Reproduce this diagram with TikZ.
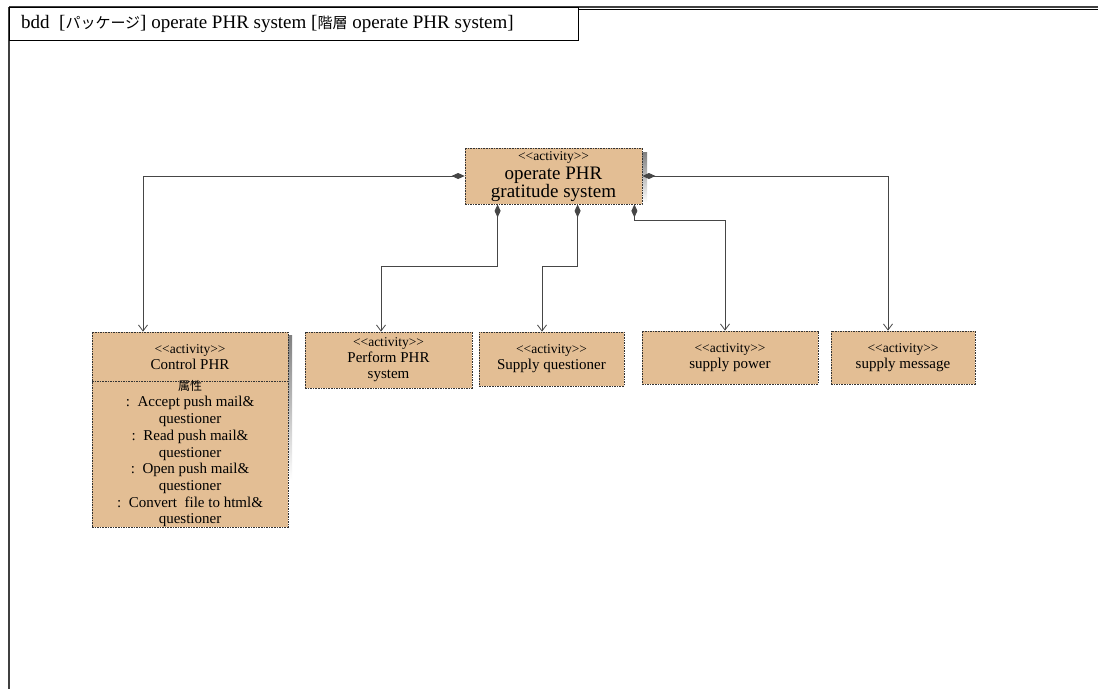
\documentclass[tikz,border=0pt]{standalone}
\usepackage{fontspec}
\setmainfont{Liberation Serif}[Ligatures=NoCommon]
\newfontfamily\jp{Noto Sans CJK JP}
\usetikzlibrary{arrows.meta,positioning}
\definecolor{actfill}{RGB}{227,190,148}
\definecolor{wire}{RGB}{70,70,70}
\definecolor{shade}{RGB}{185,185,185}
\newcommand{\stereoact}{{\fontsize{13.5}{16}\selectfont <{}<activity>{}>}}
\tikzset{
  actbox/.style={draw=black!80, fill=actfill, line width=0.8pt,
    dash pattern=on 1.6pt off 1pt, rectangle, inner sep=0pt, align=center,
    font=\fontsize{15}{16}\selectfont},
  comp/.style={draw=wire, line width=0.9pt,
    {Diamond[length=13pt,width=6pt,fill=wire]}-{Straight Barb[length=6pt,width=9pt,line width=0.8pt]}},
}
\begin{document}
\begin{tikzpicture}[x=1pt,y=-1pt]
\useasboundingbox (0,0) rectangle (1098,689);
\fill[white] (0,0) rectangle (1098,689);

% diagram frame
\draw[shade, line width=0.8pt] (11,9) -- (1098,9);
\draw[black!75, line width=1.6pt] (9,7) -- (1098,7);
\draw[black!75, line width=1.6pt] (9,7) -- (9,689);
\node[draw=black, line width=0.8pt, fill=white, minimum width=569pt, minimum height=33pt,
  inner sep=0pt, anchor=north west] (frame) at (9,7) {};
\node[anchor=west, inner sep=0pt, font=\fontsize{19}{21}\selectfont] (title) at (21,23.5)
  {bdd\ \ [{\jp\fontsize{15}{17}\selectfont パッケージ}] operate PHR system [{\jp\fontsize{15}{17}\selectfont 階層} operate PHR system]};

% drop shadows
\fill[shade] (642,152) rectangle (647,203);
\fill[shade] (288,335) rectangle (292,480);

% top-level activity
\node[actbox, minimum width=177pt, minimum height=56pt] (main) at (553.5,176) {};
\node[inner sep=0pt] (mainst) at (553.5,157) {\stereoact};
\node[font=\fontsize{19}{18}\selectfont, align=center, inner sep=0pt] (maintx) at (553.5,184)
  {operate PHR\\gratitude system};

% Control PHR with its attribute compartment
\node[actbox, minimum width=196pt, minimum height=195pt] (ctrl) at (190,429.5) {};
\coordinate (divl) at (92,381);
\coordinate (divr) at (288,381);
\draw[black!80, line width=0.8pt, dash pattern=on 1.6pt off 1pt] (divl) -- (divr);
\node[align=center, inner sep=0pt, font=\fontsize{15}{16}\selectfont] (ctrltx) at (190,357)
  {\stereoact\\Control PHR};
\node[align=center, inner sep=0pt, font=\fontsize{15}{16.7}\selectfont, anchor=north] (attrs) at (190,380)
  {{\jp\fontsize{12}{13}\selectfont 属性}\\
   :\ \ Accept push mail\&\\questioner\\
   :\ \ Read push mail\&\\questioner\\
   :\ \ Open push mail\&\\questioner\\
   :\ \ Convert\ \ file to html\&\\questioner};

% other activities
\node[actbox, minimum width=167pt, minimum height=56pt] (perform) at (388.5,360)
  {\stereoact\\Perform PHR\\system};
\node[actbox, minimum width=145pt, minimum height=54pt] (supq) at (551.5,359)
  {\stereoact\\Supply questioner};
\node[actbox, minimum width=176pt, minimum height=53pt] (power) at (730,357.5)
  {\stereoact\\supply power};
\node[actbox, minimum width=144pt, minimum height=53pt] (msg) at (903,357.5)
  {\stereoact\\supply message};

% composition links
\draw[comp] (main.west) -| ([xshift=-47pt]ctrl.north);
\draw[comp] ([xshift=33pt]main.south west) -- ++(0,62) -| ([xshift=-7.5pt]perform.north);
\draw[comp] ([xshift=113pt]main.south west) -- ++(0,62) -| ([xshift=-9.5pt]supq.north);
\draw[comp] ([xshift=-8pt]main.south east) -- ++(0,16) -| ([xshift=-5pt]power.north);
\draw[comp] (main.east) -| ([xshift=-15pt]msg.north);
\end{tikzpicture}
\end{document}
